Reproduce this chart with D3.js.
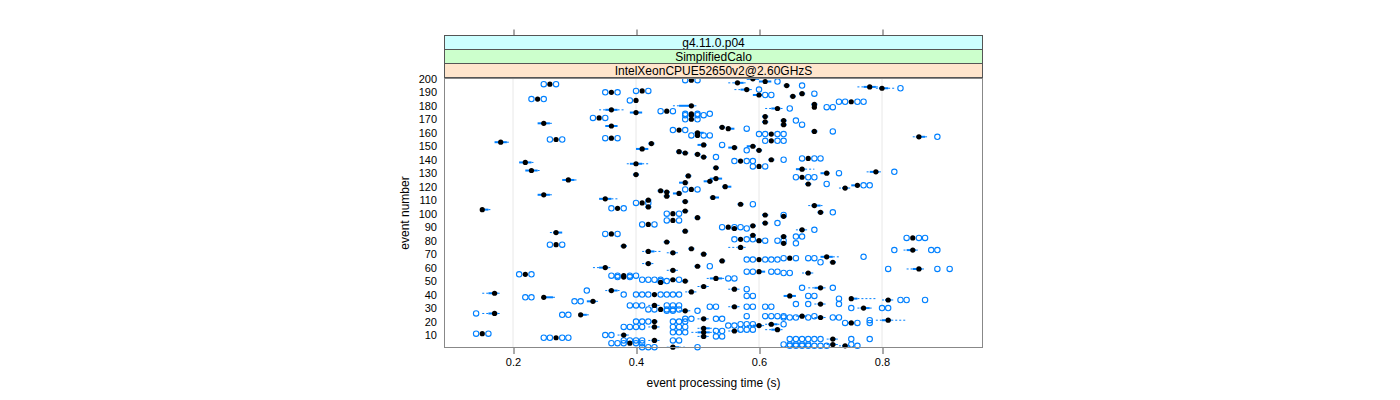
<!DOCTYPE html>
<html><head><meta charset="utf-8">
<script src="https://cdn.jsdelivr.net/npm/d3@7"></script>
<style>body{margin:0;background:#fff}svg{display:block}text{font-family:"Liberation Sans",Arial,Helvetica,sans-serif}</style>
</head><body><svg id="c" width="1400" height="400"></svg>
<script>
const stripLabels = ["g4.11.0.p04", "SimplifiedCalo", "IntelXeonCPUE52650v2@2.60GHzS"];
const stripColors = ["#CCFFFF", "#CCFFCC", "#FFE5CC"];
const xTicks = [0.2, 0.4, 0.6, 0.8];
const yTicks = [10,20,30,40,50,60,70,80,90,100,110,120,130,140,150,160,170,180,190,200];

const events = [1,2,3,4,6,7,8,9,10,11, 12,13,14,15,16,17,18,19,20,21, 22,23,24,25,26,28,29,30,31,32,
 33,35,36,37,38,39,40,41,42,43, 44,45,46,49,50,51,52,53,54,55, 56,57,58,59,60,61,63,64,65,66,
 67,68,70,71,72,73,74,75,76,77, 78,79,80,81,82,83,84,85,86,87, 88,89,90,91,92,93,95,97,98,99,
 100,101,102,103,104,105,106,107,108,109, 110,111,112,113,114,115,116,117,118,119, 120,121,122,123,124,125,126,127,128,129,
 130,131,132,133,134,135,137,138,139,140, 141,142,144,145,146,147,148,149,150,151, 152,153,154,155,156,157,158,159,160,161,
 162,163,164,165,166,167,168,169,170,171, 172,173,174,175,176,177,178,179,180,181, 183,184,185,187,188,189,190,191,192,193,
 194,195,196,197,198,199,200];

const medians = [.46,.74,.72,.39,.43,.72,.27,.51,.38,.15, .51,.56,.63,.51,.43,.60,.62,.75,.43,.81, .51,.70,.67,.31,.17,.48,.44,.77,.56,.43,
 .70,.33,.81,.75,.25,.65,.43,.17,.49,.36, .56,.70,.51,.44,.48,.46,.53,.38,.38,.22, .68,.60,.46,.86,.35,.50,.42,.72,.54,.60,
 .65,.71,.51,.46,.42,.85,.49,.57,.38,.27, .64,.45,.60,.57,.85,.64,.59,.36,.27,.48, .67,.56,.55,.59,.42,.61,.46,.50,.64,.61,
 .46,.70,.48,.15,.37,.42,.69,.57,.41,.48, .42,.35,.525,.45,.25,.47,.45,.44,.49,.74, .545,.76,.68,.48,.52,.29,.53,.67,.485,.40,
 .71,.79,.23,.67,.53,.60,.40,.22,.57,.62, .68,.51,.50,.48,.47,.60,.41,.56,.59,.51, .425,.18,.62,.27,.36,.86,.50,.62,.50,.69,
 .47,.55,.54,.36,.64,.25,.61,.64,.49,.34, .61,.49,.49,.40,.45,.36,.63,.69,.49,.69, .75,.40,.24,.655,.60,.67,.36,.41,.58,.80,
 .78,.645,.26,.565,.61,.49,.59];

const boxLow = [.455,.735,.715,.39,.425,.715,.27,.505,.375,.15, .50,.555,.62,.505,.425,.59,.615,.745,.425,.80, .505,.695,.665,.31,.16,.475,.44,.765,.555,.425,
 .695,.32,.805,.75,.25,.64,.43,.16,.485,.355, .555,.69,.505,.435,.475,.455,.52,.38,.38,.22, .675,.60,.455,.85,.34,.495,.415,.715,.535,.60,
 .65,.70,.505,.455,.415,.84,.485,.565,.375,.27, .635,.445,.595,.57,.85,.635,.585,.36,.265,.475, .665,.555,.55,.585,.42,.605,.46,.495,.635,.605,
 .46,.695,.475,.15,.37,.415,.685,.565,.41,.475, .415,.34,.52,.445,.24,.46,.445,.435,.49,.735, .54,.75,.675,.47,.51,.28,.52,.67,.48,.395,
 .70,.78,.22,.66,.525,.60,.39,.21,.57,.615, .68,.505,.495,.475,.465,.595,.40,.55,.58,.50, .42,.17,.62,.27,.36,.855,.50,.62,.495,.685,
 .47,.55,.535,.35,.635,.24,.605,.635,.49,.34, .605,.49,.49,.39,.45,.35,.62,.69,.47,.685, .75,.40,.24,.65,.59,.665,.36,.41,.57,.795,
 .77,.64,.26,.56,.60,.49,.58];

const boxHigh = [.47,.745,.725,.39,.435,.725,.27,.515,.385,.15, .52,.565,.635,.52,.435,.605,.63,.755,.435,.815, .515,.705,.675,.32,.175,.485,.44,.78,.565,.435,
 .705,.335,.815,.76,.265,.66,.43,.175,.495,.37, .565,.705,.515,.445,.485,.465,.54,.38,.38,.22, .685,.61,.465,.865,.355,.505,.425,.725,.545,.60,
 .65,.72,.515,.465,.43,.855,.495,.575,.385,.27, .645,.455,.605,.57,.85,.645,.595,.36,.28,.485, .675,.565,.55,.595,.42,.615,.46,.505,.645,.615,
 .46,.705,.485,.16,.37,.425,.70,.575,.41,.485, .425,.36,.535,.455,.26,.475,.455,.445,.49,.745, .555,.765,.685,.485,.525,.30,.54,.67,.49,.405,
 .715,.795,.24,.675,.535,.60,.41,.23,.57,.625, .68,.515,.505,.485,.475,.605,.42,.565,.595,.515, .43,.19,.62,.27,.36,.87,.50,.62,.51,.695,
 .47,.56,.545,.37,.645,.26,.615,.645,.49,.34, .615,.49,.49,.41,.45,.37,.635,.69,.495,.695, .75,.40,.24,.66,.605,.675,.36,.41,.585,.81,
 .79,.65,.26,.575,.62,.49,.60];

const whiskerLow = [.45,.73,.71,.39,.42,.71,.27,.50,.37,.15, .49,.55,.61,.50,.42,.58,.61,.745,.425,.79, .50,.69,.66,.31,.15,.47,.44,.76,.55,.42,
 .69,.32,.80,.75,.25,.64,.43,.15,.48,.35, .55,.68,.50,.43,.475,.455,.515,.38,.38,.22, .67,.60,.45,.84,.33,.495,.41,.715,.535,.60,
 .65,.70,.505,.45,.41,.835,.485,.55,.375,.27, .635,.445,.595,.57,.85,.635,.585,.36,.26,.475, .66,.555,.55,.585,.42,.605,.46,.495,.635,.605,
 .46,.695,.475,.15,.37,.415,.68,.565,.41,.475, .415,.34,.52,.445,.24,.46,.445,.435,.49,.73, .54,.75,.675,.47,.51,.28,.52,.67,.48,.395,
 .70,.775,.22,.66,.525,.60,.385,.21,.57,.615, .68,.505,.495,.475,.465,.595,.40,.55,.58,.50, .42,.17,.62,.27,.36,.85,.50,.62,.495,.685,
 .47,.55,.535,.35,.635,.24,.605,.635,.49,.34, .605,.49,.49,.39,.45,.34,.61,.69,.46,.685, .75,.40,.24,.65,.59,.665,.36,.41,.56,.79,
 .76,.64,.26,.55,.60,.49,.58];

const whiskerHigh = [.48,.75,.73,.39,.44,.73,.27,.52,.39,.15, .53,.57,.64,.53,.44,.61,.635,.755,.435,.84, .52,.71,.68,.325,.18,.49,.44,.785,.57,.44,
 .71,.34,.82,.79,.27,.66,.43,.18,.50,.375, .57,.71,.52,.45,.485,.465,.545,.38,.38,.22, .69,.61,.47,.87,.36,.505,.43,.725,.545,.60,
 .65,.73,.515,.47,.44,.86,.495,.58,.385,.27, .645,.455,.605,.57,.85,.645,.595,.36,.28,.485, .68,.565,.55,.595,.42,.615,.46,.505,.645,.615,
 .46,.705,.485,.165,.37,.425,.705,.575,.41,.485, .425,.37,.535,.455,.265,.475,.455,.445,.49,.75, .555,.765,.685,.485,.525,.305,.54,.67,.49,.405,
 .715,.80,.245,.69,.535,.60,.42,.235,.57,.625, .68,.515,.505,.485,.475,.605,.42,.565,.595,.515, .43,.195,.62,.27,.36,.875,.50,.62,.51,.695,
 .47,.56,.545,.37,.645,.265,.615,.645,.49,.34, .615,.49,.49,.41,.45,.38,.64,.69,.50,.695, .75,.40,.24,.66,.605,.675,.36,.41,.59,.82,
 .80,.65,.26,.58,.62,.49,.60];

const outliers = [
 [.41,.42,.43,.50],[.65,.66,.67,.68,.69,.70,.71,.76],[.64,.65,.66,.67,.68,.75],[.36,.37,.38,.40,.41],[.38,.39,.40,.41,.46,.47],[.65,.66,.67,.68,.69,.70,.75,.78],[.25,.26,.28,.29],[.53,.54],[.35,.36],[.14,.16],
 [.46,.47,.48],[.53,.54],[.57,.58,.59],[],[.38,.39,.40,.41,.46,.47,.48],[.55,.56],[.57,.58,.59,.64],[.74,.76,.78],[.40,.41,.42,.46,.47,.48],[.78],
 [.48,.49,.53,.54],[.64,.65,.66,.68,.72,.73],[.58,.61,.62,.63,.64,.69],[.28,.29],[.14],[.45,.46,.50],[.42,.43,.45,.46,.47],[.75,.80,.81],[.52,.53,.58,.59,.61,.62],[.39,.40,.41,.45,.46,.47],
 [.66,.68,.73],[.30,.31],[.83,.84,.87],[.73],[.22,.23],[.58,.59,.68,.69],[.38,.40,.41,.42,.44,.45,.46,.47],[],[],[.32],
 [.58],[.67,.72],[],[],[.44,.45],[.41,.42,.43,.44,.47],[.55,.56],[.37,.39],[.36,.37,.39,.40],[.21,.23],
 [.64,.65],[.58,.59,.62,.63],[],[.81,.89,.91],[],[.52],[],[.70],[],[.58,.59,.61,.62,.63],
 [.64,.66,.68,.69],[.77],[],[],[],[.82,.88,.89],[],[],[],[.26,.28],
 [.66],[],[.61,.63,.64],[.56,.58,.59],[.84,.86,.87],[.66,.67],[],[.35,.37],[],[],
 [.69],[.58],[.54,.56,.57],[],[.41,.43],[.63],[.45,.47],[],[],[.64],
 [.45,.47],[.72],[],[],[.36,.38],[],[],[.59],[.40,.42],[],
 [],[],[],[],[],[],[],[],[.48,.50],[],
 [],[.77,.78],[.71],[],[],[],[],[.66,.68,.69],[],[],
 [.73],[.82],[],[],[],[.59,.61],[],[],[.56,.58,.59],[.64],
 [.67,.69,.70],[.53],[],[],[],[.58],[],[],[],[.54],
 [],[],[.61,.63,.64],[.26,.28],[.35,.37],[.89],[.49,.51,.52],[.60,.61,.63,.64],[],[.72],
 [.46,.48],[.58],[],[],[.67],[],[],[.66],[.48,.50],[.33,.35],
 [],[.48,.50,.51],[.48,.50,.52],[],[.44,.46],[],[.65],[.71,.72],[],[],
 [.73,.74,.76,.77],[.39],[.23,.25],[],[.61,.62],[.69],[.35,.37],[.40,.42],[.60],[.83],
 [],[.67],[.25,.27],[],[.63],[.48,.50],[]
];

const svg = d3.select("#c");
svg.append("rect").attr("width",1400).attr("height",400).attr("fill","#fff");

const L = 444, R = 983, T = 78, B = 348;
const x = d3.scaleLinear().domain([0.0878, 0.9642]).range([L, R]);
const y = d3.scaleLinear().domain([0.4, 200.6]).range([B, T]);
const blue = "#0080ff";

// grid
svg.append("g").selectAll("line").data(xTicks).join("line")
  .attr("x1", d => x(d)).attr("x2", d => x(d)).attr("y1", T).attr("y2", B)
  .attr("stroke", "#e8e8e8").attr("stroke-width", 1);

const data = events.map((e, i) => ({e, m: medians[i], q1: boxLow[i], q3: boxHigh[i], lo: whiskerLow[i], hi: whiskerHigh[i], out: outliers[i]}));

const plot = svg.append("g");
// whiskers
data.forEach(d => {
  const yy = y(d.e);
  if (d.lo < d.q1) plot.append("line").attr("x1", x(d.lo)).attr("x2", x(d.q1)).attr("y1", yy).attr("y2", yy)
    .attr("stroke", blue).attr("stroke-width", 1).attr("stroke-dasharray", "2,2");
  if (d.hi > d.q3) plot.append("line").attr("x1", x(d.q3)).attr("x2", x(d.hi)).attr("y1", yy).attr("y2", yy)
    .attr("stroke", blue).attr("stroke-width", 1).attr("stroke-dasharray", "2,2");
});
// boxes
plot.append("g").selectAll("rect").data(data.filter(d => d.q3 > d.q1)).join("rect")
  .attr("x", d => x(d.q1)).attr("width", d => x(d.q3) - x(d.q1))
  .attr("y", d => y(d.e) - 1).attr("height", 2).attr("fill", blue);
// outliers
const outPts = [];
data.forEach(d => d.out.forEach(v => outPts.push({e: d.e, v})));
plot.append("g").selectAll("circle").data(outPts).join("circle")
  .attr("cx", d => x(d.v)).attr("cy", d => y(d.e)).attr("r", 2.7)
  .attr("fill", "none").attr("stroke", blue).attr("stroke-width", 1.1);
// medians
plot.append("g").selectAll("circle").data(data).join("circle")
  .attr("cx", d => x(d.m)).attr("cy", d => y(d.e)).attr("r", 2.6).attr("fill", "#000");

// panel border
svg.append("rect").attr("x", L + 0.5).attr("y", T + 0.5).attr("width", R - L - 1).attr("height", B - T - 1)
  .attr("fill", "none").attr("stroke", "#888").attr("stroke-width", 1);

// strips
const stripTop = 35.5, stripH = 14;
stripLabels.forEach((s, i) => {
  const yy = stripTop + i * stripH;
  svg.append("rect").attr("x", L + 0.5).attr("y", yy).attr("width", R - L - 1).attr("height", stripH)
    .attr("fill", stripColors[i]).attr("stroke", "#555").attr("stroke-width", 1);
  svg.append("text").attr("x", (L + R) / 2).attr("y", yy + stripH / 2 + 4.2)
    .attr("text-anchor", "middle").attr("font-size", 12).attr("fill", "#000").text(s);
});

// bottom axis
const ax = svg.append("g").attr("transform", `translate(0,${B})`)
  .call(d3.axisBottom(x).tickValues(xTicks).tickFormat(d3.format(".1f")).tickSize(6).tickPadding(4));
ax.select(".domain").remove();
ax.selectAll("line").attr("stroke", "#555").attr("transform", "translate(0.5,0)");
ax.selectAll("text").attr("font-size", 11).attr("font-family", '"Liberation Sans",Arial,sans-serif').attr("fill", "#000");

// top ticks
const at = svg.append("g").attr("transform", `translate(0,${stripTop})`)
  .call(d3.axisTop(x).tickValues(xTicks).tickFormat("").tickSize(6));
at.select(".domain").remove();
at.selectAll("line").attr("stroke", "#555").attr("transform", "translate(0.5,0)");

// left axis labels
const ay = svg.append("g").attr("transform", `translate(${L},0)`)
  .call(d3.axisLeft(y).tickValues(yTicks).tickSize(0).tickPadding(7));
ay.select(".domain").remove();
ay.selectAll("text").attr("font-size", 11).attr("font-family", '"Liberation Sans",Arial,sans-serif').attr("fill", "#000");

// axis titles
svg.append("text").attr("x", (L + R) / 2).attr("y", 387).attr("text-anchor", "middle")
  .attr("font-size", 12).attr("fill", "#000").text("event processing time (s)");
svg.append("text").attr("transform", `translate(409,${(T + B) / 2}) rotate(-90)`).attr("text-anchor", "middle")
  .attr("font-size", 12).attr("fill", "#000").text("event number");
</script></body></html>
